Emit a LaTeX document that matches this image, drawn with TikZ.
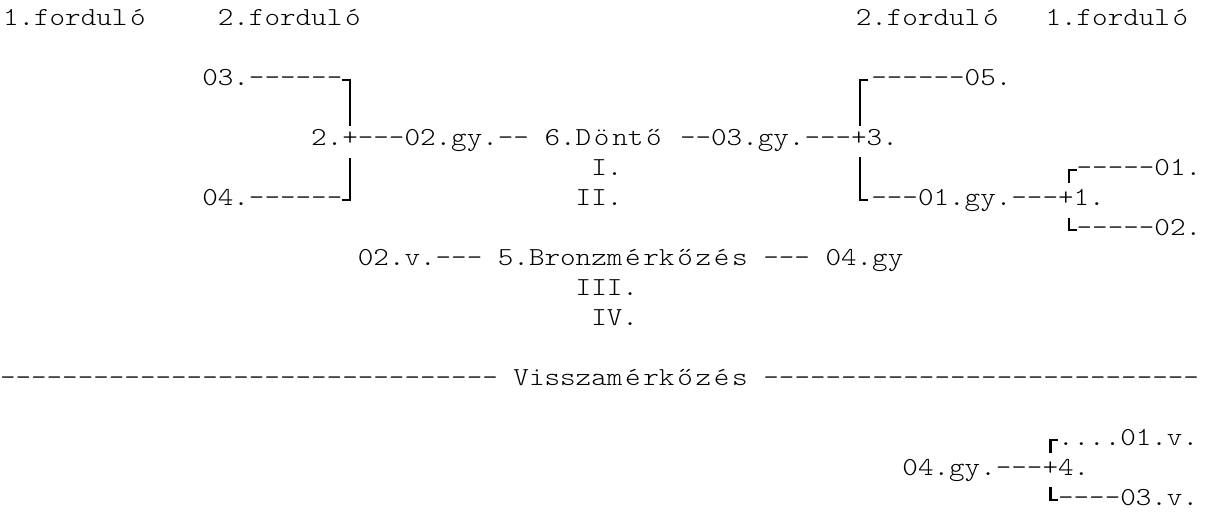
\documentclass[tikz,border=0pt]{standalone}
\usepackage{fontspec}
\newfontfamily\curfont{Latin Modern Mono Light}[FakeStretch=1.1429]
\newcommand\cur{\curfont\fontsize{25.93}{30}\selectfont}
\newcommand\hy{-\kern0pt}
\newcommand\acc[1]{\makebox[21.06pt][c]{#1}}
\tikzset{
  tx/.style={anchor=base west, inner sep=0pt, outer sep=0pt, font=\cur, text=black},
  brk/.style={line width=2.5pt, line cap=butt, line join=miter, draw=black}
}
\begin{document}
\begin{tikzpicture}
\clip (0,0) rectangle (1211pt,-517pt);
\fill[white] (0,0) rectangle (1211pt,-517pt);
% row 0
\node[tx] (h1) at ({0*15.56pt+3pt},-25.5pt) {1.fordul\acc{ó}};
\node[tx] (h2) at ({14*15.56pt},-25.5pt) {2.fordul\acc{ó}};
\node[tx] (h3) at ({55*15.56pt},-25.5pt) {2.fordul\acc{ó}};
\node[tx] (h4) at ({67*15.56pt+3pt},-25.5pt) {1.fordul\acc{ó}};
% row 2
\node[tx] (p03) at ({13*15.56pt},-85.5pt) {03.\hy\hy\hy\hy\hy\hy};
\node[tx] (p05) at ({56*15.56pt},-85.5pt) {\hy\hy\hy\hy\hy\hy05.};
% row 4
\node[tx] (fin) at ({20*15.56pt},-145.5pt) {2.+\hy\hy\hy02.gy.\hy\hy{} 6.D\acc{ö}nt\acc{ő} \hy\hy03.gy.\hy\hy\hy+3.};
% row 5
\node[tx] (g1) at ({38*15.56pt},-175.5pt) {I.};
\node[tx] (p01) at ({69*15.56pt+3pt},-175.5pt) {\hy\hy\hy\hy\hy01.};
% row 6
\node[tx] (p04) at ({13*15.56pt},-205.5pt) {04.\hy\hy\hy\hy\hy\hy};
\node[tx] (g2) at ({37*15.56pt},-205.5pt) {II.};
\node[tx] (s1) at ({56*15.56pt},-205.5pt) {\hy\hy\hy01.gy.\hy\hy\hy+1.};
% row 7
\node[tx] (p02) at ({69*15.56pt+3pt},-235.5pt) {\hy\hy\hy\hy\hy02.};
% row 8
\node[tx] (bronz) at ({23*15.56pt},-265.5pt) {02.v.\hy\hy\hy{} 5.Bronzm\acc{é}rk\acc{ő}z\acc{é}s \hy\hy\hy{} 04.gy};
\node[tx] (g3) at ({37*15.56pt},-295.5pt) {III.};
\node[tx] (g4) at ({38*15.56pt},-325.5pt) {IV.};
% row 12
\node[tx] (vl) at ({0*15.56pt},-385.5pt) {\hy\hy\hy\hy\hy\hy\hy\hy\hy\hy\hy\hy\hy\hy\hy\hy\hy\hy\hy\hy\hy\hy\hy\hy\hy\hy\hy\hy\hy\hy\hy\hy};
\node[tx] (vissza) at ({33*15.56pt},-385.5pt) {Visszam\acc{é}rk\acc{ő}z\acc{é}s};
\node[tx] (vr) at ({48*15.56pt+16.5pt},-385.5pt) {\hy\hy\hy\hy\hy\hy\hy\hy\hy\hy\hy\hy\hy\hy\hy\hy\hy\hy\hy\hy\hy\hy\hy\hy\hy\hy\hy\hy};
% rows 14-16
\node[tx] (v01) at ({68*15.56pt},-445.5pt) {....01.v.};
\node[tx] (v4) at ({58*15.56pt},-475.5pt) {04.gy.\hy\hy\hy+4.};
\node[tx] (v03) at ({68*15.56pt},-505.5pt) {\hy\hy\hy\hy03.v.};
% bracket coordinates
\coordinate (La) at ({22*15.56pt},-80pt);
\coordinate (Lb) at ({22.5*15.56pt},-80pt);
\coordinate (Lc) at ({22.5*15.56pt},-126pt);
\coordinate (Ld) at ({22.5*15.56pt},-158pt);
\coordinate (Le) at ({22.5*15.56pt},-200pt);
\coordinate (Lf) at ({22*15.56pt},-200pt);
\coordinate (Ra) at (868pt,-80pt);
\coordinate (Rb) at (860pt,-80pt);
\coordinate (Rc) at (860pt,-126pt);
\coordinate (Rd) at (860pt,-157pt);
\coordinate (Re) at (860pt,-200pt);
\coordinate (Rf) at (868pt,-200pt);
\coordinate (Sa) at (1077pt,-170pt);
\coordinate (Sb) at (1069pt,-170pt);
\coordinate (Sc) at (1069pt,-183pt);
\coordinate (Sd) at (1069pt,-218pt);
\coordinate (Se) at (1069pt,-230pt);
\coordinate (Sf) at (1077pt,-230pt);
\coordinate (Va) at ({68*15.56pt},-440pt);
\coordinate (Vb) at ({67.5*15.56pt},-440pt);
\coordinate (Vc) at ({67.5*15.56pt},-453pt);
\coordinate (Vd) at ({67.5*15.56pt},-487pt);
\coordinate (Ve) at ({67.5*15.56pt},-500pt);
\coordinate (Vf) at ({68*15.56pt},-500pt);
\draw[brk] (La) -- (Lb) -- (Lc);
\draw[brk] (Ld) -- (Le) -- (Lf);
\draw[brk] (Ra) -- (Rb) -- (Rc);
\draw[brk] (Rd) -- (Re) -- (Rf);
\draw[brk] (Sa) -- (Sb) -- (Sc);
\draw[brk] (Sd) -- (Se) -- (Sf);
\draw[brk] (Va) -- (Vb) -- (Vc);
\draw[brk] (Vd) -- (Ve) -- (Vf);
\end{tikzpicture}
\end{document}
